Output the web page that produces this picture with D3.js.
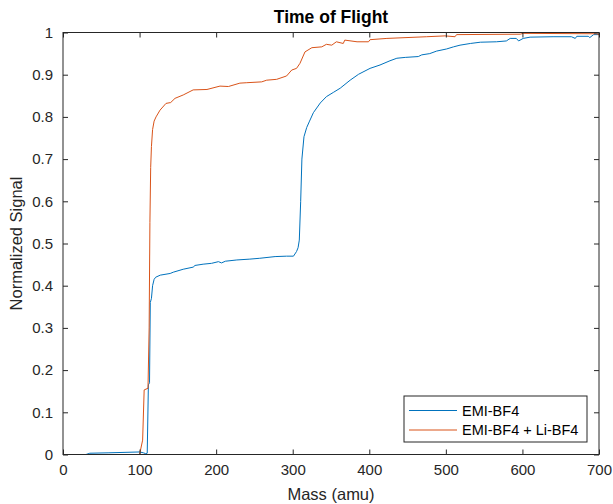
<!DOCTYPE html>
<html>
<head>
<meta charset="utf-8">
<script src="https://cdn.jsdelivr.net/npm/d3@7"></script>
<style>
  html, body { margin: 0; padding: 0; background: #fff; }
  svg { display: block; font-family: "Liberation Sans", Arial, Helvetica, sans-serif; }
</style>
</head>
<body>
<svg id="chart" width="613" height="504"></svg>
<script>
// Time-of-flight normalized signal vs. mass
const massEmi = [0, 30, 35, 60, 100, 105, 108, 110, 111.5, 113, 114, 115.5, 117, 119, 121, 127, 140, 144, 157, 170, 172.4, 183, 194, 203, 207, 212, 227, 244, 257, 277, 292, 301, 305, 307, 308.6, 310.4, 312, 314.7, 318.3, 322, 327, 336, 344, 353, 362, 375, 386, 401, 414, 427, 436, 447, 464, 468.5, 479, 488, 501, 510, 518.5, 532, 545, 566, 579, 584, 592, 595, 601, 610, 640, 664, 669, 671, 686, 688, 693, 700];
const signalEmi = [0, 0, 0.003, 0.004, 0.006, 0.004, 0.002, 0.003, 0.165, 0.17, 0.36, 0.37, 0.40, 0.415, 0.42, 0.425, 0.429, 0.432, 0.439, 0.444, 0.448, 0.451, 0.453, 0.457, 0.454, 0.458, 0.461, 0.463, 0.465, 0.469, 0.470, 0.470, 0.481, 0.49, 0.508, 0.60, 0.70, 0.753, 0.775, 0.79, 0.81, 0.833, 0.848, 0.858, 0.868, 0.887, 0.901, 0.915, 0.923, 0.933, 0.939, 0.941, 0.943, 0.947, 0.950, 0.956, 0.961, 0.966, 0.970, 0.974, 0.977, 0.978, 0.980, 0.986, 0.986, 0.980, 0.986, 0.989, 0.990, 0.990, 0.986, 0.991, 0.991, 0.988, 0.995, 0.995];

const massLi = [0, 100, 104, 106, 111, 112.5, 113.5, 114.5, 115.5, 117, 119, 121.5, 126.7, 134.5, 140.6, 146.3, 157, 170, 188, 205, 216, 231, 240, 259.5, 266, 279, 292, 298.7, 305, 309.5, 316, 325, 338, 344, 351, 357, 366, 368, 384, 399, 401, 423, 475, 499, 512, 514, 597, 601, 697, 700];
const signalLi = [0, 0, 0.034, 0.153, 0.157, 0.30, 0.55, 0.68, 0.73, 0.77, 0.79, 0.80, 0.816, 0.832, 0.834, 0.844, 0.852, 0.864, 0.865, 0.873, 0.872, 0.880, 0.881, 0.883, 0.887, 0.889, 0.897, 0.911, 0.915, 0.927, 0.954, 0.964, 0.966, 0.972, 0.970, 0.978, 0.974, 0.982, 0.978, 0.978, 0.983, 0.986, 0.990, 0.992, 0.990, 0.995, 0.996, 0.998, 0.997, 0.995];

const xTicks = [0, 100, 200, 300, 400, 500, 600, 700];
const yTicks = [0, 0.1, 0.2, 0.3, 0.4, 0.5, 0.6, 0.7, 0.8, 0.9, 1];
const seriesNames = ["EMI-BF4", "EMI-BF4 + Li-BF4"];
const seriesColors = ["#0072BD", "#D95319"];

const margin = { left: 63, top: 32.5, right: 14, bottom: 49.5 };
const W = 613, H = 504;
const iw = W - margin.left - margin.right;
const ih = H - margin.top - margin.bottom;
const axisColor = "#262626";

const svg = d3.select("#chart");
const g = svg.append("g").attr("transform", `translate(${margin.left},${margin.top})`);

const x = d3.scaleLinear().domain([0, 700]).range([0, iw]);
const y = d3.scaleLinear().domain([0, 1]).range([ih, 0]);

// data lines
const line = d3.line().x(d => x(d[0])).y(d => y(d[1]));
const series = [
  d3.zip(massEmi, signalEmi),
  d3.zip(massLi, signalLi)
];
series.forEach((s, i) => {
  g.append("path")
    .datum(s)
    .attr("fill", "none")
    .attr("stroke", seriesColors[i])
    .attr("stroke-width", 1)
    .attr("stroke-linejoin", "round")
    .attr("d", line);
});

// axes with inward ticks on all four sides
function styleAxis(sel, showText) {
  sel.select(".domain").remove();
  sel.selectAll(".tick line").attr("stroke", axisColor).attr("stroke-width", 1);
  sel.selectAll(".tick text").attr("fill", axisColor).style("font-size", "15px");
  if (!showText) sel.selectAll(".tick text").remove();
}
const fmtY = d => d === 0 ? "0" : d === 1 ? "1" : d3.format(".1f")(d);

g.append("g").attr("transform", `translate(0,${ih})`)
  .call(d3.axisBottom(x).tickValues(xTicks).tickSizeInner(-5).tickPadding(10).tickFormat(d3.format("d")))
  .call(s => styleAxis(s, true));
g.append("g")
  .call(d3.axisTop(x).tickValues(xTicks).tickSizeInner(-5).tickFormat(""))
  .call(s => styleAxis(s, false));
g.append("g")
  .call(d3.axisLeft(y).tickValues(yTicks).tickSizeInner(-5).tickPadding(10).tickFormat(fmtY))
  .call(s => styleAxis(s, true));
g.append("g").attr("transform", `translate(${iw},0)`)
  .call(d3.axisRight(y).tickValues(yTicks).tickSizeInner(-5).tickFormat(""))
  .call(s => styleAxis(s, false));

// box
g.append("rect")
  .attr("x", 0).attr("y", 0).attr("width", iw).attr("height", ih)
  .attr("fill", "none").attr("stroke", axisColor).attr("stroke-width", 1);

// title and axis labels
svg.append("text")
  .attr("x", margin.left + iw / 2).attr("y", 23)
  .attr("text-anchor", "middle")
  .style("font-size", "17.5px").style("font-weight", "bold")
  .attr("fill", "#000")
  .text("Time of Flight");
svg.append("text")
  .attr("x", margin.left + iw / 2).attr("y", 500)
  .attr("text-anchor", "middle")
  .style("font-size", "16.5px")
  .attr("fill", axisColor)
  .text("Mass (amu)");
svg.append("text")
  .attr("transform", `translate(22,${margin.top + ih / 2}) rotate(-90)`)
  .attr("text-anchor", "middle")
  .style("font-size", "16.5px")
  .attr("fill", axisColor)
  .text("Normalized Signal");

// legend
const lg = svg.append("g").attr("transform", "translate(404,396)");
lg.append("rect").attr("width", 183).attr("height", 46)
  .attr("fill", "#fff").attr("stroke", axisColor).attr("stroke-width", 1);
seriesNames.forEach((name, i) => {
  const cy = 14.5 + i * 19.5;
  lg.append("line").attr("x1", 5).attr("x2", 53).attr("y1", cy).attr("y2", cy)
    .attr("stroke", seriesColors[i]).attr("stroke-width", 1);
  lg.append("text").attr("x", 58).attr("y", cy).attr("dy", "0.35em")
    .style("font-size", "14.5px").attr("fill", "#000").text(name);
});
</script>
</body>
</html>
